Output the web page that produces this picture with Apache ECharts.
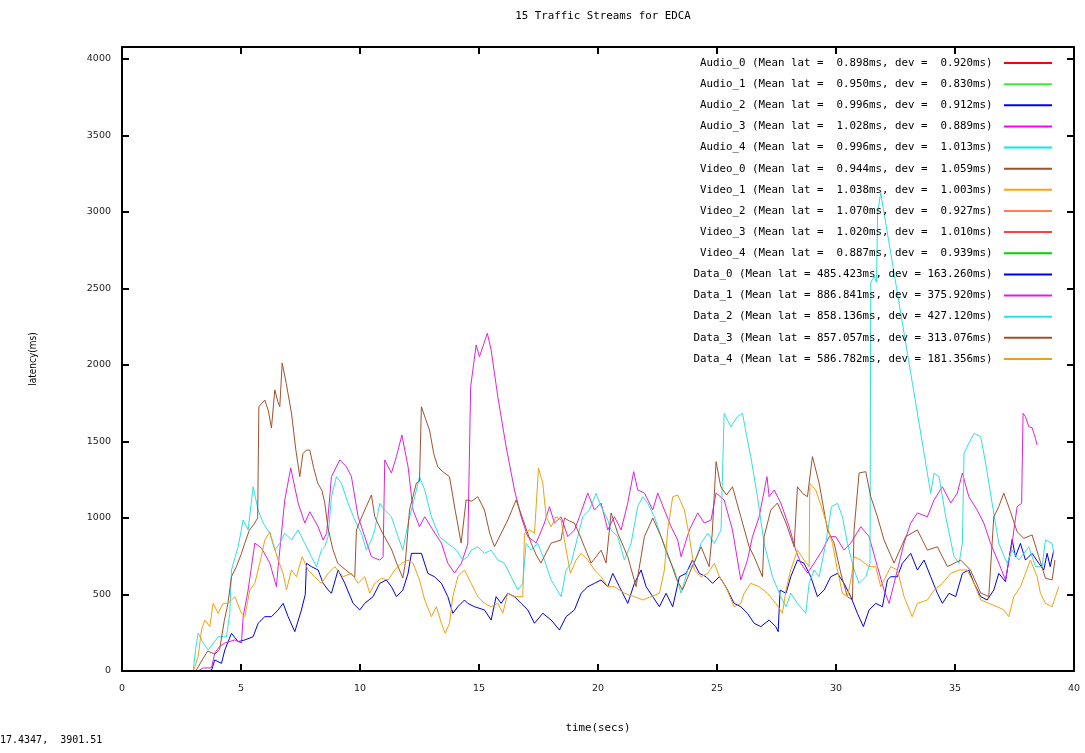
<!DOCTYPE html>
<html>
<head>
<meta charset="utf-8">
<title>15 Traffic Streams for EDCA</title>
<script src="https://cdn.jsdelivr.net/npm/echarts@6/dist/echarts.min.js"></script>
<style>
  html, body { margin: 0; padding: 0; background: #fff; }
  #chart { width: 1085px; height: 753px; }
</style>
</head>
<body>
<div id="chart"></div>
<script>
// stream names, stats shown in the key, colours
var streamNames = ["Audio_0", "Audio_1", "Audio_2", "Audio_3", "Audio_4",
  "Video_0", "Video_1", "Video_2", "Video_3", "Video_4",
  "Data_0", "Data_1", "Data_2", "Data_3", "Data_4"];
var meanLat = ["0.898", "0.950", "0.996", "1.028", "0.996",
  "0.944", "1.038", "1.070", "1.020", "0.887",
  "485.423", "886.841", "858.136", "857.057", "586.782"];
var devLat = ["0.920", "0.830", "0.912", "0.889", "1.013",
  "1.059", "1.003", "0.927", "1.010", "0.939",
  "163.260", "375.920", "427.120", "313.076", "181.356"];
var colors = ["#ff0000", "#40e840", "#0000ff", "#ff00ff", "#00f0f0",
  "#a0522d", "#ffa500", "#ff7f50", "#ff4040", "#00d000",
  "#0000e0", "#e020e0", "#30e0e0", "#a0522d", "#f0a010"];

// y range runs a bit past the 4000 tick, as in the plot
var yMax = 4078;

// audio / video streams stay around 1 ms
var audio0 = [[3.1, 1], [12.8, 1], [25.9, 1], [39.2, 1]];
var audio1 = [[3.1, 1], [14.2, 1], [27.5, 1], [39.2, 1]];
var audio2 = [[3.1, 1], [11.0, 1], [24.3, 1], [39.2, 1]];
var audio3 = [[3.1, 1], [15.6, 1], [29.0, 1], [39.2, 1]];
var audio4 = [[3.1, 1], [13.5, 1], [33.1, 1], [39.2, 1]];
var video0 = [[3.1, 1], [10.4, 1], [22.7, 1], [39.2, 1]];
var video1 = [[3.1, 1], [12.1, 1], [30.4, 1], [39.2, 1]];
var video2 = [[3.1, 1], [16.3, 1], [28.2, 1], [39.2, 1]];
var video3 = [[3.1, 1], [12.6, 1], [31.7, 1], [39.2, 1]];
var video4 = [[3.1, 1], [18.9, 1], [34.5, 1], [39.2, 1]];

// data streams: [time(secs), latency(ms)]
var data0 = [[3.5,0],[3.76,5],[3.9,72],[4.18,50],[4.32,137],[4.6,246],[4.88,192],[5.16,203],[5.51,224],[5.72,312],[6.0,355],[6.28,355],[6.56,399],[6.77,442],[6.98,355],[7.26,257],[7.54,399],[7.7,500],[7.75,704],[7.96,682],[8.24,660],[8.45,573],[8.66,530],[8.8,508],[9.08,660],[9.36,573],[9.71,442],[9.99,399],[10.2,442],[10.55,486],[10.83,573],[11.11,595],[11.32,551],[11.53,486],[11.8,529],[12.02,638],[12.16,769],[12.58,769],[12.85,638],[13.13,616],[13.42,573],[13.69,486],[13.9,377],[14.11,420],[14.39,464],[14.53,442],[14.81,420],[15.23,399],[15.51,333],[15.72,486],[15.93,442],[16.21,508],[16.49,486],[16.77,442],[17.05,399],[17.33,312],[17.68,377],[18.03,333],[18.38,268],[18.66,355],[19.01,399],[19.29,508],[19.57,551],[19.85,573],[20.13,595],[20.41,551],[20.62,638],[20.9,551],[21.25,442],[21.53,573],[21.81,660],[22.02,551],[22.3,486],[22.58,420],[22.86,508],[23.14,420],[23.42,616],[23.7,638],[23.97,725],[24.26,638],[24.54,616],[24.81,573],[25.1,616],[25.37,551],[25.72,442],[26.0,420],[26.28,377],[26.56,312],[26.84,290],[27.19,333],[27.47,290],[27.57,257],[27.65,529],[27.9,508],[28.1,616],[28.38,725],[28.66,704],[28.94,616],[29.22,486],[29.5,529],[29.78,616],[30.06,638],[30.34,573],[30.62,486],[30.9,377],[31.15,290],[31.39,399],[31.67,442],[31.95,420],[32.16,595],[32.3,616],[32.58,616],[32.79,704],[33.14,769],[33.42,660],[33.7,725],[33.98,616],[34.26,508],[34.47,442],[34.75,508],[35.03,486],[35.31,638],[35.58,660],[35.8,573],[36.08,486],[36.35,464],[36.63,529],[36.84,638],[37.12,584],[37.4,860],[37.54,747],[37.75,834],[37.96,725],[38.24,769],[38.52,704],[38.73,660],[38.87,769],[39.0,682],[39.15,790]];

var data1 = [[3.2,0],[3.4,20],[3.76,20],[3.9,118],[4.1,160],[4.32,183],[4.74,203],[5.02,183],[5.09,355],[5.3,529],[5.58,836],[5.86,804],[6.21,705],[6.49,551],[6.56,682],[6.84,1118],[7.09,1327],[7.4,1098],[7.68,967],[7.89,1041],[8.24,943],[8.45,856],[8.6,900],[8.8,1270],[9.15,1379],[9.43,1335],[9.64,1270],[9.92,1008],[10.2,878],[10.48,747],[10.83,725],[10.97,747],[11.04,1379],[11.32,1294],[11.53,1401],[11.76,1542],[12.02,1335],[12.23,1052],[12.5,943],[12.72,1008],[13.06,922],[13.42,836],[13.69,705],[13.97,640],[14.26,705],[14.53,830],[14.65,1858],[14.88,2131],[15.02,2054],[15.16,2119],[15.35,2207],[15.51,2098],[15.79,1793],[16.14,1466],[16.49,1183],[16.77,1008],[17.05,878],[17.4,836],[17.75,967],[17.96,1074],[18.17,967],[18.45,1008],[18.73,878],[19.01,922],[19.22,1008],[19.57,1163],[19.85,1052],[20.13,1098],[20.41,922],[20.69,1008],[20.97,922],[21.25,1098],[21.5,1303],[21.67,1183],[21.95,1163],[22.3,1052],[22.51,1163],[22.79,1052],[23.07,943],[23.35,856],[23.49,747],[23.84,922],[24.19,1033],[24.47,967],[24.75,987],[24.96,1163],[25.3,1118],[25.65,922],[26.0,595],[26.28,725],[26.49,878],[26.77,1008],[27.1,1270],[27.19,1139],[27.4,1183],[27.68,1098],[28.03,943],[28.31,790],[28.52,705],[28.8,640],[29.08,705],[29.43,790],[29.71,878],[29.99,878],[30.34,790],[30.62,836],[31.04,943],[31.39,878],[31.74,682],[32.02,529],[32.23,442],[32.51,616],[32.86,836],[33.14,967],[33.42,1033],[33.84,1008],[34.12,1118],[34.47,1204],[34.82,1098],[35.1,1163],[35.31,1294],[35.58,1139],[35.93,1052],[36.21,967],[36.49,836],[36.84,705],[37.12,595],[37.4,836],[37.61,1074],[37.8,1096],[37.86,1684],[37.96,1662],[38.1,1597],[38.24,1590],[38.38,1520],[38.45,1477]];

var data2 = [[2.99,0],[3.1,150],[3.2,248],[3.41,183],[3.62,137],[4.04,224],[4.39,224],[4.53,377],[4.6,660],[4.88,812],[5.09,987],[5.3,922],[5.51,1204],[5.72,1052],[5.93,967],[6.21,900],[6.42,790],[6.63,834],[6.84,900],[7.12,856],[7.4,922],[7.68,834],[7.96,747],[8.17,682],[8.38,790],[8.52,812],[8.66,878],[8.8,1139],[9.01,1270],[9.22,1227],[9.5,1096],[9.78,987],[10.06,900],[10.27,790],[10.48,856],[10.62,922],[10.83,1096],[11.04,1052],[11.32,1008],[11.6,878],[11.8,790],[12.02,965],[12.3,1139],[12.5,1270],[12.72,1183],[13.0,1008],[13.34,878],[13.69,834],[14.05,790],[14.32,725],[14.53,747],[14.67,790],[14.95,812],[15.23,769],[15.51,790],[15.79,725],[16.07,704],[16.35,616],[16.63,529],[16.84,573],[16.98,834],[17.19,790],[17.47,834],[17.75,725],[18.03,595],[18.45,486],[18.66,660],[18.87,704],[19.15,878],[19.36,1008],[19.64,1052],[19.92,1161],[20.13,1074],[20.41,987],[20.55,922],[20.83,878],[21.11,725],[21.39,834],[21.67,1074],[21.88,1139],[22.09,1096],[22.37,1008],[22.65,878],[22.93,747],[23.21,660],[23.49,508],[23.77,660],[24.05,704],[24.33,834],[24.61,900],[24.89,834],[25.17,922],[25.3,1684],[25.58,1597],[25.86,1662],[26.07,1684],[26.28,1510],[26.42,1401],[26.7,1139],[26.98,834],[27.33,616],[27.68,486],[27.9,420],[28.1,508],[28.38,442],[28.73,377],[28.87,573],[29.08,660],[29.29,616],[29.57,834],[29.81,1074],[30.06,1096],[30.27,1008],[30.48,834],[30.76,660],[30.97,573],[31.25,616],[31.43,704],[31.46,2536],[31.6,2580],[31.7,2540],[31.75,3000],[31.88,3124],[33.98,1161],[34.12,1292],[34.33,1270],[34.61,1008],[34.96,747],[35.17,704],[35.31,834],[35.38,1423],[35.58,1488],[35.8,1553],[36.08,1531],[36.29,1357],[36.56,1096],[36.84,834],[37.19,704],[37.4,790],[37.68,725],[38.1,812],[38.38,682],[38.66,682],[38.8,856],[39.08,834],[39.15,769]];

var data3 = [[3.1,0],[3.4,80],[3.6,130],[3.9,110],[4.1,140],[4.3,330],[4.45,440],[4.6,616],[4.8,680],[5.0,760],[5.16,836],[5.35,920],[5.55,960],[5.7,1000],[5.75,1727],[6.0,1771],[6.15,1700],[6.28,1588],[6.42,1837],[6.55,1760],[6.63,1727],[6.73,2013],[6.9,1880],[7.12,1686],[7.3,1450],[7.47,1270],[7.6,1420],[7.75,1444],[7.89,1444],[8.05,1330],[8.22,1229],[8.4,1180],[8.52,1098],[8.65,941],[8.85,800],[9.06,705],[9.4,660],[9.78,614],[9.85,922],[10.0,980],[10.2,1052],[10.48,1150],[10.62,1008],[10.95,900],[11.32,797],[11.55,700],[11.8,608],[11.9,700],[12.08,1052],[12.37,1229],[12.5,1240],[12.58,1727],[12.75,1650],[12.92,1575],[13.1,1420],[13.27,1333],[13.5,1300],[13.76,1270],[14.0,1050],[14.25,836],[14.46,1118],[14.7,1110],[14.95,1139],[15.23,1052],[15.45,900],[15.65,812],[15.93,900],[16.21,987],[16.56,1118],[16.9,967],[17.19,836],[17.4,760],[17.6,705],[18.03,836],[18.45,856],[18.59,1000],[18.8,980],[19.01,967],[19.2,900],[19.43,812],[19.71,705],[20.13,790],[20.34,705],[20.55,1033],[20.83,900],[21.25,747],[21.6,551],[21.95,878],[22.3,1000],[22.65,878],[23.07,705],[23.3,600],[23.55,529],[23.9,660],[24.33,812],[24.67,682],[24.8,900],[24.96,1368],[25.16,1204],[25.4,1150],[25.65,1204],[26.0,1008],[26.35,812],[26.56,747],[26.91,616],[26.98,878],[27.26,1052],[27.54,1098],[27.9,967],[28.24,812],[28.38,1204],[28.6,1160],[28.8,1139],[29.01,1401],[29.29,1229],[29.64,922],[29.92,836],[30.2,640],[30.48,486],[30.69,464],[30.76,922],[30.97,1294],[31.25,1303],[31.46,1139],[31.74,1008],[32.02,856],[32.44,705],[32.93,878],[33.42,922],[33.84,790],[34.26,812],[34.68,682],[35.24,725],[35.65,660],[36.08,510],[36.42,486],[36.63,1008],[36.84,1074],[37.05,1163],[37.33,1041],[37.61,910],[37.89,867],[38.24,889],[38.52,747],[38.8,606],[39.08,595],[39.2,725]];

var data4 = [[3.0,0],[3.06,28],[3.2,94],[3.34,268],[3.48,333],[3.69,290],[3.83,442],[4.04,377],[4.25,442],[4.46,442],[4.74,486],[5.02,377],[5.16,355],[5.37,529],[5.58,573],[5.79,704],[6.0,856],[6.21,910],[6.35,834],[6.56,725],[6.77,638],[6.91,529],[7.12,660],[7.33,616],[7.57,747],[7.82,660],[8.1,616],[8.38,573],[8.66,638],[8.94,682],[9.29,616],[9.64,638],[9.92,573],[10.2,616],[10.41,508],[10.62,573],[10.9,606],[11.18,595],[11.46,660],[11.74,704],[12.02,725],[12.23,704],[12.5,595],[12.72,464],[13.0,355],[13.21,420],[13.42,312],[13.58,246],[13.76,312],[13.9,486],[14.11,616],[14.39,660],[14.67,573],[14.95,486],[15.23,442],[15.51,420],[15.79,442],[16.0,377],[16.21,508],[16.49,486],[16.84,486],[16.91,900],[17.12,922],[17.33,900],[17.5,1325],[17.68,1227],[17.82,1008],[18.03,943],[18.24,1008],[18.45,987],[18.59,856],[18.84,638],[19.08,725],[19.29,769],[19.57,725],[19.85,660],[20.13,616],[20.41,551],[20.69,551],[21.11,508],[21.53,486],[21.88,464],[22.23,486],[22.58,508],[22.79,660],[22.93,922],[23.14,1139],[23.35,1150],[23.63,1052],[23.84,878],[24.05,660],[24.33,616],[24.61,638],[24.89,704],[25.1,616],[25.37,551],[25.72,420],[26.0,442],[26.14,508],[26.42,573],[26.77,551],[27.12,508],[27.47,442],[27.75,377],[27.9,529],[28.1,660],[28.38,790],[28.66,725],[28.87,682],[28.9,1227],[29.15,1183],[29.43,1052],[29.64,943],[29.85,834],[30.06,660],[30.27,508],[30.48,486],[30.65,616],[30.76,747],[31.04,725],[31.39,682],[31.67,682],[31.88,551],[32.16,638],[32.3,682],[32.58,660],[32.86,486],[33.2,355],[33.42,442],[33.84,464],[34.12,529],[34.47,573],[34.82,638],[35.17,660],[35.51,660],[35.8,573],[36.08,464],[36.42,442],[36.77,420],[37.05,399],[37.26,355],[37.47,486],[37.75,551],[37.96,638],[38.17,725],[38.45,616],[38.59,508],[38.8,442],[39.08,420],[39.22,486],[39.36,551]];

var streamData = [audio0, audio1, audio2, audio3, audio4,
  video0, video1, video2, video3, video4,
  data0, data1, data2, data3, data4];

var mono = "DejaVu Sans Mono";

function pad(s, n) {
  while (s.length < n) s = " " + s;
  return s;
}

// gnuplot style key text
var keyNames = [];
for (var i = 0; i < streamNames.length; i++) {
  keyNames.push(streamNames[i] + " (Mean lat = " + pad(meanLat[i], 6) +
    "ms, dev = " + pad(devLat[i], 6) + "ms)");
}

var series = [];
for (var i = 0; i < streamNames.length; i++) {
  series.push({
    name: keyNames[i],
    type: "line",
    data: streamData[i],
    symbol: "none",
    z: i < 10 ? 1 : 2,
    lineStyle: { color: colors[i], width: 1 },
    itemStyle: { color: colors[i] }
  });
}

// only the multiples of 500 get a label
function yLabel(v) {
  return v % 500 === 0 ? String(v) : "";
}

var chart = echarts.init(document.getElementById("chart"));
chart.setOption({
  animation: false,
  backgroundColor: "#fff",
  title: {
    text: "15 Traffic Streams for EDCA",
    left: 598,
    top: 6,
    textAlign: "center",
    textStyle: { fontFamily: mono, fontSize: 10.8, fontWeight: "normal", color: "#000" }
  },
  legend: {
    orient: "vertical",
    align: "right",
    right: 32,
    top: 56,
    padding: 0,
    itemWidth: 48,
    itemHeight: 14,
    itemGap: 7.14,
    data: keyNames,
    itemStyle: { opacity: 0 },
    formatter: function (name) { return name + " "; },
    textStyle: { fontFamily: mono, fontSize: 10.8, color: "#000", lineHeight: 14 }
  },
  grid: { left: 122, right: 11, top: 47, bottom: 82 },
  xAxis: [{
    type: "value",
    min: 0, max: 40, interval: 5,
    z: 5,
    name: "time(secs)",
    nameLocation: "middle",
    nameGap: 52,
    nameTextStyle: { fontFamily: mono, fontSize: 10.8, color: "#000" },
    axisLine: { onZero: false, lineStyle: { color: "#000", width: 2 } },
    axisTick: { inside: true, length: 7, lineStyle: { color: "#000", width: 2 } },
    axisLabel: { margin: 13, fontFamily: "DejaVu Sans", fontSize: 9.5, color: "#222" },
    splitLine: { show: false }
  }, {
    type: "value",
    position: "top",
    min: 0, max: 40, interval: 5,
    z: 5,
    axisLine: { onZero: false, lineStyle: { color: "#000", width: 2 } },
    axisTick: { inside: true, length: 7, lineStyle: { color: "#000", width: 2 } },
    axisLabel: { show: false },
    splitLine: { show: false }
  }],
  yAxis: [{
    type: "value",
    min: 0, max: yMax, interval: 500,
    z: 5,
    name: "latency(ms)",
    nameLocation: "middle",
    nameGap: 84,
    nameTextStyle: { fontFamily: "DejaVu Sans Condensed, DejaVu Sans", fontSize: 10, color: "#000" },
    axisLine: { show: true, onZero: false, lineStyle: { color: "#000", width: 2 } },
    axisTick: { show: true, inside: true, length: 7, lineStyle: { color: "#000", width: 2 } },
    axisLabel: {
      margin: 11, fontFamily: "DejaVu Sans", fontSize: 9.5, color: "#222",
      showMaxLabel: false,
      formatter: yLabel
    },
    splitLine: { show: false }
  }, {
    type: "value",
    position: "right",
    min: 0, max: yMax, interval: 500,
    z: 5,
    axisLine: { show: true, onZero: false, lineStyle: { color: "#000", width: 2 } },
    axisTick: { show: true, inside: true, length: 7, lineStyle: { color: "#000", width: 2 } },
    axisLabel: { show: false },
    splitLine: { show: false }
  }],
  graphic: [{
    type: "text",
    left: 0,
    top: 735,
    style: { text: "17.4347,  3901.51", fontFamily: mono, fontSize: 10, fill: "#000" }
  }],
  series: series
});
</script>
</body>
</html>
